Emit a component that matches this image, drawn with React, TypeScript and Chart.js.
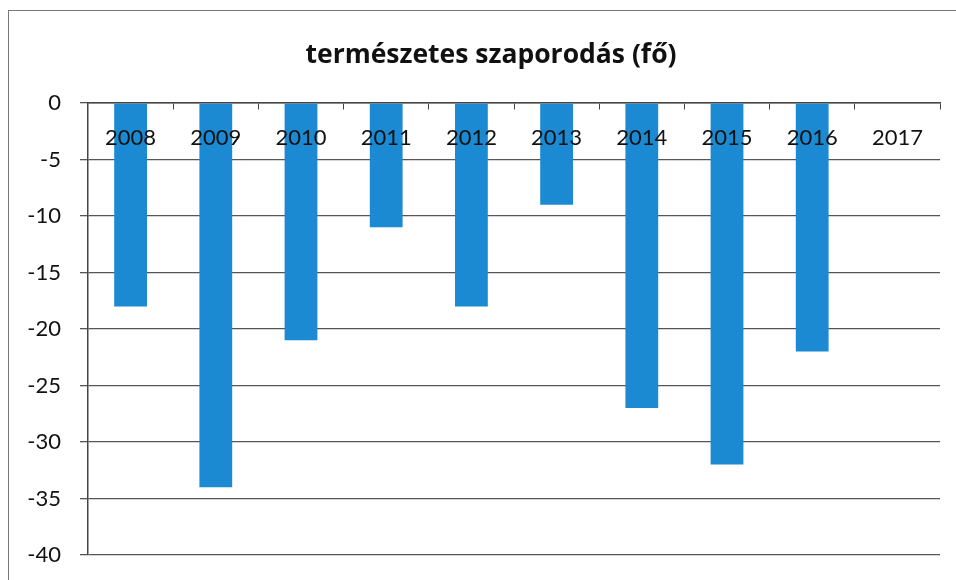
import React, { useEffect, useRef } from "react";
import { Chart, registerables } from "chart.js";

Chart.register(...registerables);

const title = "természetes szaporodás (fő)";
const years = ["2008", "2009", "2010", "2011", "2012", "2013", "2014", "2015", "2016", "2017"];
const values: (number | null)[] = [-18, -34, -21, -11, -18, -9, -27, -32, -22, null];
const yMin = -40;
const yMax = 0;
const yStep = 5;

const FONT = "Lato, 'Open Sans', 'Liberation Sans', sans-serif";
const TITLE_FONT = "'Open Sans', Lato, sans-serif";

// shifts the title block so that it is centred where the original centres it
const titleShift = {
  id: "titleShift",
  afterLayout(chart: any) {
    const t = chart.titleBlock;
    if (t) {
      t.left += 34;
    }
  },
};

export default function App() {
  const ref = useRef<HTMLCanvasElement | null>(null);

  useEffect(() => {
    if (!ref.current) return;
    const chart = new Chart(ref.current, {
      type: "bar",
      data: {
        labels: years,
        datasets: [
          {
            data: values,
            backgroundColor: "#1b8ad3",
            borderWidth: 0,
            barPercentage: 0.385,
            categoryPercentage: 1,
          },
        ],
      },
      plugins: [titleShift],
      options: {
        animation: false,
        responsive: false,
        maintainAspectRatio: false,
        layout: { padding: { left: 8, right: 16, top: 0, bottom: 25 } },
        plugins: {
          legend: { display: false },
          tooltip: { enabled: false },
          title: {
            display: true,
            text: title,
            color: "#111",
            font: { family: TITLE_FONT, size: 26.5, weight: "bold", lineHeight: 1.2 },
            padding: { top: 40, bottom: 31.2 },
          },
        },
        scales: {
          x: {
            position: { y: 0 } as any,
            offset: true,
            afterFit: (s: any) => {
              s.height = 0;
              s.paddingTop = 0;
              s.paddingBottom = 0;
            },
            grid: {
              offset: true,
              drawOnChartArea: false,
              drawTicks: true,
              tickLength: 6,
              color: "#444",
            },
            border: { display: true, color: "#444", width: 1.5 },
            ticks: {
              z: 1,
              color: "#111",
              padding: 16,
              maxRotation: 0,
              font: { family: FONT, size: 22 },
            },
          },
          y: {
            min: yMin,
            max: yMax,
            afterFit: (s: any) => {
              s.width = 80;
              s.paddingTop = 0;
              s.paddingBottom = 0;
            },
            grid: {
              color: "#555",
              lineWidth: 1.3,
              drawTicks: true,
              tickLength: 8,
            },
            border: { display: true, color: "#444", width: 1.5 },
            ticks: {
              stepSize: yStep,
              color: "#111",
              padding: 19,
              font: { family: FONT, size: 22 },
            },
          },
        },
      },
    });
    return () => chart.destroy();
  }, []);

  return (
    <div
      style={{
        position: "fixed",
        left: 0,
        top: 0,
        width: 956,
        height: 580,
        background: "#fff",
      }}
    >
      <div
        style={{
          position: "absolute",
          left: 8,
          top: 10,
          width: 948,
          height: 570,
          borderTop: "1.5px solid #777",
          borderLeft: "1.5px solid #777",
        }}
      />
      <canvas
        ref={ref}
        width={956}
        height={580}
        style={{ position: "absolute", left: 0, top: 0, width: 956, height: 580 }}
      />
    </div>
  );
}
